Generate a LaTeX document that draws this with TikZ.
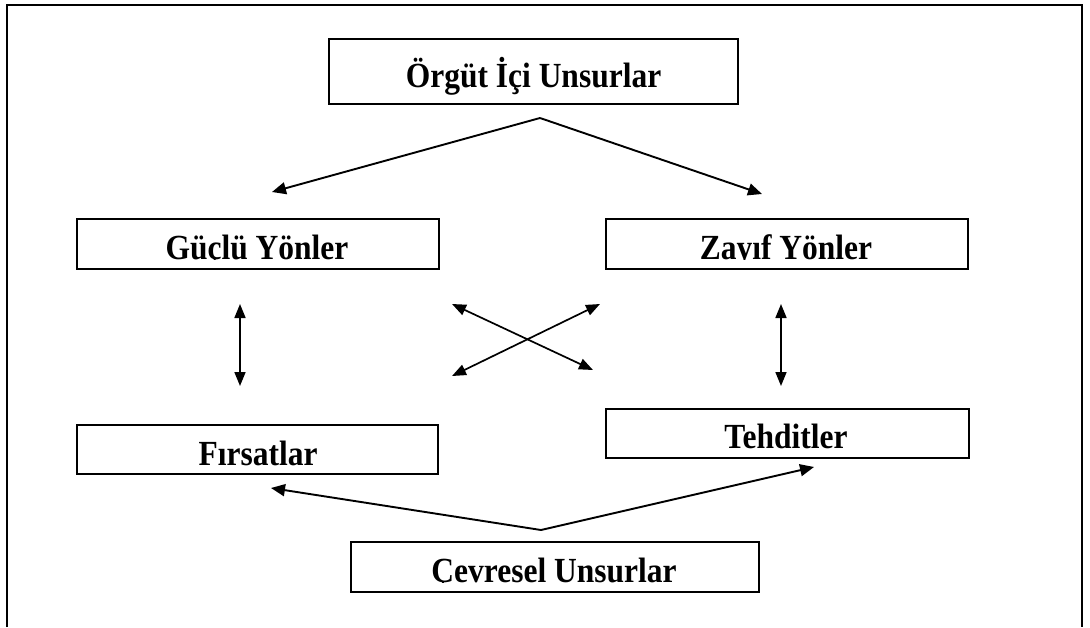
\documentclass[tikz,border=0pt]{standalone}
\usepackage{fontspec}
\setmainfont{Liberation Serif}
\usetikzlibrary{arrows.meta}
\tikzset{
  boxframe/.style={draw, line width=2pt, inner sep=0pt},
  lbl/.style={font=\fontsize{31.5}{36}\selectfont\bfseries, inner sep=0pt, anchor=base},
  arr/.style={line width=1.9pt, -{Triangle[length=14pt,width=12pt]}},
  darr/.style={line width=1.7pt, {Triangle[length=14pt,width=11pt]}-{Triangle[length=14pt,width=11pt]}}
}
\begin{document}
\begin{tikzpicture}[x=1pt,y=-1pt]
\useasboundingbox (0,0) rectangle (1090,627);
% outer frame (open at bottom)
\draw[line width=2pt] (7,627) -- (7,5) -- (1082,5) -- (1082,627);
% boxes
\draw[boxframe] (329,39) rectangle (738,104);
\draw[boxframe] (77,219) rectangle (439,269);
\draw[boxframe] (606,219) rectangle (968,269);
\draw[boxframe] (77,425) rectangle (438,474);
\draw[boxframe] (606,409) rectangle (969,458);
\draw[boxframe] (351,542) rectangle (759,592);
% labels
\node[lbl] (org) at (533.5,87) {\scalebox{1}[1.12]{Örgüt İçi Unsurlar}};
\begin{scope}
\clip (80,222) rectangle (436,259.5);
\node[lbl] (gl) at (257,259) {\scalebox{1}[1.12]{Güçlü Yönler}};
\end{scope}
\begin{scope}
\clip (609,222) rectangle (965,259.5);
\node[lbl] (zy) at (786,259) {\scalebox{1}[1.12]{Zayıf Yönler}};
\end{scope}
\begin{scope}
\clip (80,428) rectangle (435,465.5);
\node[lbl] (fr) at (258,465) {\scalebox{1}[1.12]{Fırsatlar}};
\end{scope}
\node[lbl] (th) at (786,448) {\scalebox{1}[1.12]{Tehditler}};
\begin{scope}
\clip (354,545) rectangle (756,582.5);
\node[lbl] (cv) at (554,582) {\scalebox{1}[1.12]{Çevresel Unsurlar}};
\end{scope}
% connector points
\coordinate (a1) at (540,118);
\coordinate (a1l) at (272,192);
\coordinate (a1r) at (762,194);
\coordinate (vl1) at (240,304);
\coordinate (vl2) at (240,386);
\coordinate (vr1) at (781,304);
\coordinate (vr2) at (781,386);
\coordinate (c1) at (452,304);
\coordinate (c2) at (593,370);
\coordinate (c3) at (452,376);
\coordinate (c4) at (600,304);
\coordinate (a2) at (541,530);
\coordinate (a2l) at (271,488);
\coordinate (a2r) at (814,467);
% connectors
\draw[arr] (a1) -- (a1l);
\draw[arr] (a1) -- (a1r);
\draw[darr] (vl1) -- (vl2);
\draw[darr] (vr1) -- (vr2);
\draw[darr] (c1) -- (c2);
\draw[darr] (c3) -- (c4);
\draw[arr] (a2) -- (a2l);
\draw[arr] (a2) -- (a2r);
\end{tikzpicture}
\end{document}
